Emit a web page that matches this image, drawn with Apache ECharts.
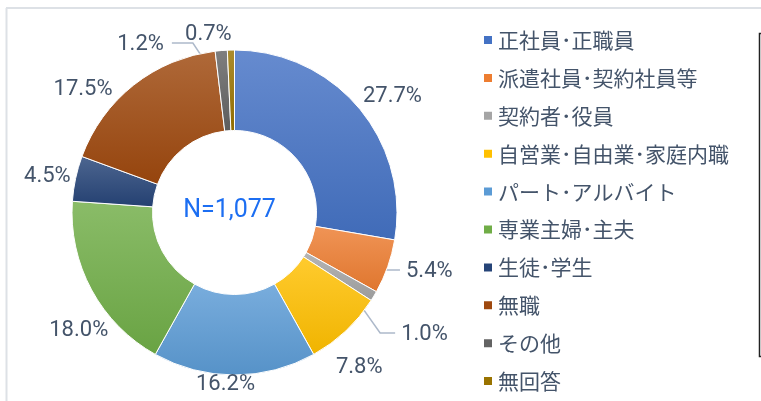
<!DOCTYPE html>
<html>
<head>
<meta charset="utf-8">
<script src="https://cdn.jsdelivr.net/npm/echarts@6/dist/echarts.min.js"></script>
<style>
html, body { margin: 0; padding: 0; background: #fff; }
#main { width: 761px; height: 401px; }
</style>
</head>
<body>
<div id="main"></div>
<script>
// 就業形態（N=1,077）
var categories = ['正社員･正職員', '派遣社員･契約社員等', '契約者･役員', '自営業･自由業･家庭内職',
    'パート･アルバイト', '専業主婦･主夫', '生徒･学生', '無職', 'その他', '無回答'];
var shares = [27.7, 5.4, 1.0, 7.8, 16.2, 18.0, 4.5, 17.5, 1.2, 0.7];
var colors = ['#4472C4', '#ED7D31', '#A5A5A5', '#FFC000', '#5B9BD5',
    '#70AD47', '#264478', '#9E480E', '#636363', '#997300'];
var sampleLabel = 'N=1,077';

var cx = 234.5, cy = 212.5, rIn = 82, rOut = 162.5;

// labels dragged off the ring with a leader line: [elbow angle, elbow radius, tail]
var leader = {1: [110.7, 163, 13], 2: [129.6, 189, 15], 8: [-13.8, 174.5, -21]};
// small turn (deg) / push (px) of the other labels, as excel placed them
var nudge = {0: [3.9, 0], 3: [4.3, 10], 4: [3, -6], 5: [-8.8, 0], 6: [-1.3, 0], 7: [-12.5, 0], 9: [-7.1, 0]};

function mix(hex, target, t) {
    var n = parseInt(hex.slice(1), 16);
    var r = (n >> 16) & 255, g = (n >> 8) & 255, b = n & 255;
    r = Math.round(r + (target - r) * t);
    g = Math.round(g + (target - g) * t);
    b = Math.round(b + (target - b) * t);
    return 'rgb(' + r + ',' + g + ',' + b + ')';
}

var total = 0;
shares.forEach(function (v) { total += v; });
var midAngles = [];
var acc = 0;
shares.forEach(function (v) {
    midAngles.push((acc + v / 2) / total * 360);
    acc += v;
});

function polar(deg, r) {
    var a = deg * Math.PI / 180;
    return [cx + r * Math.sin(a), cy - r * Math.cos(a)];
}

var pieData = [];
for (var i = 0; i < categories.length; i++) {
    pieData.push({
        name: categories[i],
        value: shares[i],
        itemStyle: {
            color: new echarts.graphic.LinearGradient(0, 0, 0, 1, [
                {offset: 0, color: mix(colors[i], 255, 0.18)},
                {offset: 1, color: mix(colors[i], 0, 0.06)}
            ])
        },
        labelLine: {show: leader[i] != null}
    });
}

var legendData = categories.map(function (c, i) {
    return {name: c, itemStyle: {color: colors[i]}};
});

var myChart = echarts.init(document.getElementById('main'));

var option = {
    animation: false,
    backgroundColor: '#fff',
    legend: {
        orient: 'vertical',
        left: 482,
        top: 29.5,
        padding: 0,
        icon: 'rect',
        itemWidth: 10,
        itemHeight: 10,
        itemGap: 16.9,
        data: legendData,
        textStyle: {
            fontFamily: '"Noto Sans CJK JP"',
            fontSize: 21,
            color: '#44546A'
        }
    },
    graphic: [
        {type: 'line', shape: {x1: 6, y1: 8, x2: 761, y2: 8}, style: {stroke: '#dde1e6', lineWidth: 2}},
        {type: 'line', shape: {x1: 6.5, y1: 8, x2: 6.5, y2: 401}, style: {stroke: '#dde1e6', lineWidth: 2}},
        {type: 'polyline', shape: {points: [[761, 33.5], [759.5, 33.5], [759.5, 356.5], [761, 356.5]]},
            style: {stroke: '#222', lineWidth: 1.5, fill: null}},
        {type: 'text', x: 229.5, y: 211, style: {
            text: sampleLabel, fill: '#1C6EF2', fontFamily: 'Roboto', fontSize: 25,
            align: 'center', verticalAlign: 'middle'}}
    ],
    series: [{
        type: 'pie',
        center: [cx, cy],
        radius: [rIn, rOut],
        startAngle: 90,
        clockwise: true,
        avoidLabelOverlap: false,
        itemStyle: {borderColor: '#fff', borderWidth: 1},
        label: {
            show: true,
            position: 'outside',
            fontFamily: 'Roboto',
            fontSize: 22,
            color: '#44546A',
            formatter: function (p) { return p.value.toFixed(1) + '%'; }
        },
        labelLine: {
            length: 10,
            length2: 10,
            lineStyle: {color: '#ADB9CA', width: 1.5}
        },
        labelLayout: function (p) {
            var i = p.dataIndex;
            var w = p.labelRect.width, h = p.labelRect.height;
            var ld = leader[i];
            if (ld) {
                var start = polar(midAngles[i], (rIn + rOut) / 2);
                var elbow = polar(ld[0], ld[1]);
                var end = [elbow[0] + ld[2], elbow[1]];
                var right = ld[2] > 0;
                return {
                    x: end[0] + (right ? 6 : -8),
                    y: end[1] + 1.5,
                    align: right ? 'left' : 'right',
                    verticalAlign: 'middle',
                    labelLinePoints: [start, elbow, end]
                };
            }
            var ng = nudge[i] || [0, 0];
            var a = (midAngles[i] + ng[0]) * Math.PI / 180;
            var dx = Math.sin(a), dy = -Math.cos(a);
            var d = rOut + 3 + Math.abs(dx) * w / 2 + Math.abs(dy) * h / 2 + ng[1];
            return {
                x: cx + d * dx,
                y: cy + d * dy,
                align: 'center',
                verticalAlign: 'middle'
            };
        },
        data: pieData
    }]
};

myChart.setOption(option);
</script>
</body>
</html>
